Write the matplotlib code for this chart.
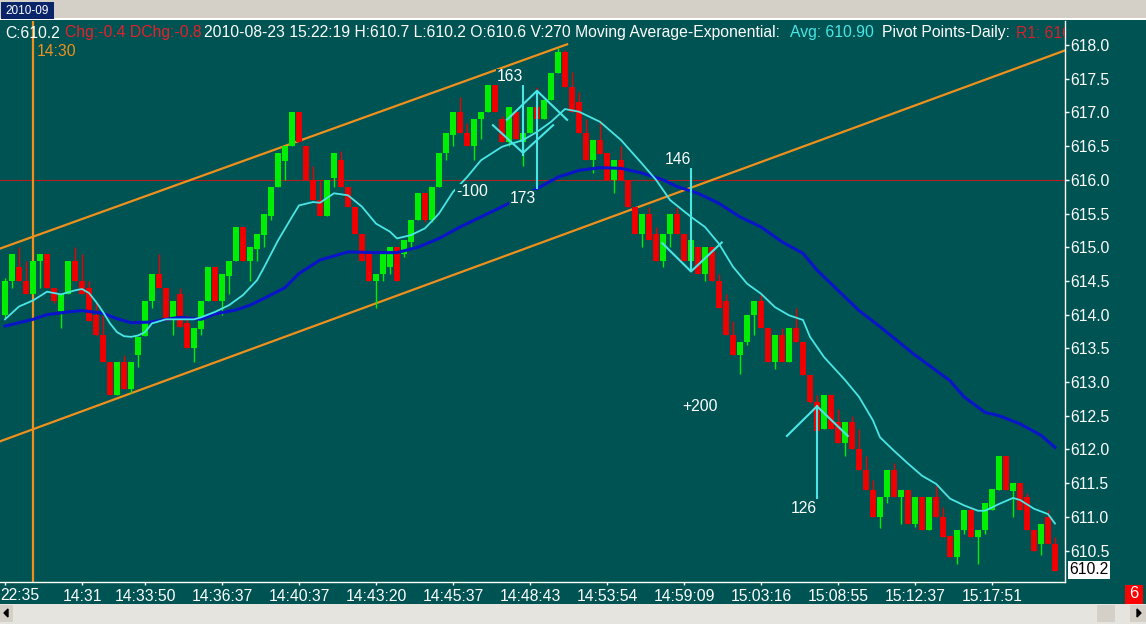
import matplotlib
matplotlib.use('Agg')
import matplotlib.pyplot as plt
from matplotlib.patches import Rectangle, Polygon
import numpy as np

plt.rcParams['font.family'] = ['Liberation Sans', 'DejaVu Sans']

# ---- data (1 minute-ish bars, index = bar number) ----
opens = [614.0, 614.5, 614.7, 614.5, 614.3, 614.8, 614.9, 614.4, 614.05, 614.3,
         614.8, 614.5, 614.4, 614.0, 613.7, 613.3, 612.8, 613.3, 612.9, 613.4,
         613.68, 614.2, 614.6, 614.4, 613.92, 614.3, 613.87, 613.5, 613.78, 614.2,
         614.7, 614.2, 614.58, 614.8, 615.3, 614.8, 614.98, 615.18, 615.47, 615.9,
         616.28, 616.5, 617.0, 616.5, 616.0, 615.7, 615.47, 616.02, 616.29, 615.9,
         615.6, 615.2, 614.9, 614.5, 614.6, 614.7, 615.0, 614.9, 615.08, 615.4,
         615.8, 615.4, 615.9, 616.4, 616.66, 617.0, 616.7, 616.5, 616.9, 617.0,
         617.4, 616.9, 616.56, 617.0, 616.56, 616.7, 617.08, 616.9, 617.18, 617.58,
         617.9, 617.38, 617.15, 616.69, 616.3, 616.59, 616.4, 616.0, 616.29, 616.0,
         615.6, 615.2, 615.5, 615.2, 614.8, 615.2, 615.5, 615.2, 614.8, 615.0,
         614.6, 615.0, 614.5, 614.2, 613.7, 613.4, 613.6, 614.0, 614.2, 613.8,
         613.3, 613.7, 613.3, 613.8, 613.6, 613.1, 612.7, 612.3, 612.8, 612.41,
         612.1, 612.41, 612.0, 611.7, 611.4, 611.0, 611.3, 611.7, 611.29, 611.4,
         610.9, 611.3, 610.8, 611.3, 611.0, 610.72, 610.4, 610.8, 611.1, 610.7,
         610.8, 611.1, 611.4, 611.9, 611.39, 611.5, 611.29, 610.8, 610.6, 611.0,
         610.6]
highs = [614.55, 614.9, 615.0, 614.8, 614.8, 614.9, 614.9, 614.4, 614.3, 614.8,
         615.0, 614.9, 614.5, 614.2, 614.0, 613.3, 613.3, 613.4, 613.3, 613.67,
         614.2, 614.6, 614.9, 614.4, 614.2, 614.4, 614.0, 613.8, 614.2, 614.7,
         614.7, 614.6, 614.8, 615.3, 615.3, 615.0, 615.19, 615.49, 615.9, 616.4,
         616.5, 617.0, 617.0, 616.5, 616.2, 616.0, 616.0, 616.4, 616.42, 615.9,
         615.6, 615.2, 614.9, 614.6, 614.9, 615.0, 615.0, 615.1, 615.4, 615.8,
         615.8, 615.9, 616.4, 616.7, 617.0, 617.23, 616.85, 616.9, 617.0, 617.4,
         617.4, 616.95, 617.08, 617.05, 616.7, 617.08, 617.38, 617.18, 617.59, 617.95,
         617.93, 617.6, 617.3, 616.9, 616.59, 616.89, 616.4, 616.29, 616.5, 616.0,
         615.6, 615.5, 615.6, 615.3, 615.2, 615.5, 615.6, 615.2, 615.1, 615.0,
         615.0, 615.0, 614.6, 614.3, 613.9, 613.6, 614.0, 614.2, 614.3, 613.8,
         613.7, 613.8, 613.8, 614.1, 613.6, 613.1, 612.8, 612.8, 612.8, 612.6,
         612.41, 612.5, 612.3, 611.9, 611.55, 611.3, 611.7, 611.8, 611.4, 611.4,
         611.29, 611.3, 611.3, 611.46, 611.15, 610.72, 610.8, 611.1, 611.15, 610.8,
         611.2, 611.42, 611.9, 611.9, 611.5, 611.5, 611.35, 610.8, 610.9, 611.1,
         610.7]
lows = [613.95, 614.4, 614.5, 614.3, 614.3, 614.4, 614.4, 614.17, 613.8, 614.3,
        614.5, 614.3, 613.9, 613.68, 613.3, 612.8, 612.8, 612.9, 612.83, 613.22,
        613.68, 614.1, 614.4, 613.9, 613.7, 613.82, 613.5, 613.3, 613.7, 614.2,
        614.2, 614.0, 614.3, 614.8, 614.8, 614.5, 614.8, 615.0, 615.4, 615.9,
        616.0, 616.5, 616.56, 616.0, 615.7, 615.47, 615.47, 615.9, 615.9, 615.6,
        615.2, 614.8, 614.5, 614.1, 614.5, 614.6, 614.5, 614.85, 615.0, 615.4,
        615.38, 615.38, 615.9, 616.3, 616.5, 616.7, 616.5, 616.3, 616.6, 617.0,
        617.0, 616.56, 616.5, 616.6, 616.2, 616.7, 616.9, 616.9, 617.18, 617.58,
        617.38, 617.0, 616.7, 616.3, 616.1, 616.39, 616.0, 615.8, 616.0, 615.6,
        615.2, 615.0, 615.1, 614.8, 614.7, 615.0, 615.2, 614.8, 614.8, 614.6,
        614.5, 614.5, 614.1, 613.7, 613.4, 613.12, 613.55, 613.7, 613.8, 613.3,
        613.2, 613.3, 613.3, 613.6, 613.1, 612.69, 612.28, 612.3, 612.3, 612.1,
        611.9, 612.0, 611.7, 611.4, 611.0, 610.83, 611.2, 611.3, 610.9, 610.9,
        610.85, 610.8, 610.8, 611.0, 610.7, 610.4, 610.3, 610.75, 610.7, 610.3,
        610.75, 611.1, 611.4, 611.4, 611.0, 611.1, 610.8, 610.49, 610.43, 610.6,
        610.2]
closes = [614.5, 614.9, 614.5, 614.3, 614.8, 614.9, 614.4, 614.2, 614.3, 614.8,
          614.5, 614.3, 613.9, 613.7, 613.3, 612.8, 613.3, 612.9, 613.3, 613.67,
          614.2, 614.6, 614.4, 613.9, 614.2, 613.82, 613.5, 613.8, 614.2, 614.7,
          614.2, 614.6, 614.8, 615.3, 614.8, 615.0, 615.19, 615.49, 615.9, 616.4,
          616.5, 617.0, 616.56, 616.0, 615.7, 615.47, 616.0, 616.4, 615.9, 615.6,
          615.2, 614.8, 614.5, 614.6, 614.9, 615.0, 614.5, 615.1, 615.4, 615.8,
          615.4, 615.9, 616.4, 616.7, 617.0, 616.7, 616.5, 616.9, 617.0, 617.4,
          617.0, 616.56, 617.08, 616.6, 616.7, 617.08, 616.9, 617.18, 617.59, 617.9,
          617.38, 617.0, 616.7, 616.3, 616.59, 616.39, 616.0, 616.29, 616.0, 615.6,
          615.2, 615.5, 615.1, 614.8, 615.2, 615.5, 615.2, 614.8, 615.1, 614.6,
          615.0, 614.5, 614.1, 613.7, 613.4, 613.6, 614.0, 614.2, 613.8, 613.3,
          613.7, 613.3, 613.8, 613.6, 613.1, 612.7, 612.28, 612.8, 612.3, 612.1,
          612.41, 612.0, 611.7, 611.4, 611.0, 611.3, 611.7, 611.3, 611.4, 610.9,
          611.29, 610.8, 611.3, 611.0, 610.7, 610.4, 610.8, 611.1, 610.7, 610.8,
          611.2, 611.42, 611.9, 611.4, 611.5, 611.1, 610.8, 610.49, 610.9, 610.6,
          610.2]

# moving averages (bar index, price)
fast_ma_idx = [0, 2, 4, 6, 8, 10, 11, 12, 13, 14, 15, 16, 17, 18, 19, 20, 21, 23, 25, 27,
               28, 30, 32, 34, 36, 37, 39, 41, 42, 44, 45, 47, 49, 51, 53, 55, 56, 58, 60, 62,
               64, 66, 68, 71, 74, 76, 78, 80, 82, 85, 88, 91, 93, 95, 98, 100, 102, 104, 106, 108,
               110, 112, 114, 115, 117, 120, 122, 124, 125, 127, 129, 131, 133, 135, 137, 139, 140, 142, 144, 145,
               147, 149, 150]
fast_ma = [613.93, 614.12, 614.21, 614.34, 614.30, 614.36, 614.38, 614.32, 614.19, 614.04,
           613.87, 613.74, 613.68, 613.67, 613.69, 613.74, 613.87, 613.93, 613.93, 613.93,
           613.96, 614.04, 614.14, 614.29, 614.51, 614.70, 615.10, 615.45, 615.62, 615.67,
           615.66, 615.80, 615.77, 615.60, 615.35, 615.23, 615.13, 615.18, 615.28, 615.50,
           615.82, 616.04, 616.29, 616.49, 616.59, 616.71, 616.86, 617.05, 617.01, 616.86,
           616.59, 616.24, 616.00, 615.70, 615.45, 615.30, 615.05, 614.71, 614.46, 614.31,
           614.11, 613.99, 613.92, 613.67, 613.37, 613.03, 612.78, 612.43, 612.18, 611.98,
           611.79, 611.61, 611.49, 611.27, 611.17, 611.09, 611.09, 611.19, 611.28, 611.25,
           611.12, 611.04, 610.90]
slow_ma_idx = [0, 2, 4, 6, 9, 11, 14, 16, 18, 21, 23, 25, 28, 30, 33, 35, 37, 40, 42, 45,
               49, 53, 56, 59, 62, 65, 68, 71, 76, 79, 82, 85, 88, 91, 94, 96, 99, 102, 105, 108,
               111, 114, 116, 119, 122, 125, 130, 135, 137, 140, 142, 145, 148, 150]
slow_ma = [613.83, 613.88, 613.93, 614.00, 614.04, 614.06, 614.02, 613.94, 613.88, 613.89,
           613.93, 613.96, 613.93, 614.01, 614.07, 614.14, 614.24, 614.40, 614.61, 614.81,
           614.93, 614.92, 614.92, 615.00, 615.13, 615.30, 615.45, 615.60, 615.87, 616.04,
           616.14, 616.18, 616.17, 616.10, 616.00, 615.90, 615.80, 615.65, 615.45, 615.30,
           615.08, 614.91, 614.66, 614.36, 614.06, 613.82, 613.40, 613.02, 612.78, 612.55,
           612.50, 612.38, 612.21, 612.03]

# trend channel (drawn lines) and other drawings
chan_upper_x, chan_upper_y = [-0.7, 80.3], [614.98, 618.01]
chan_lower_x, chan_lower_y = [-0.7, 151.7], [612.12, 617.93]
pivot_r1 = 616.0
marker_bar = 4

# cyan wave drawings: list of polylines (bar index, price)
drawings = [
    ([74, 74], [617.63, 616.37]),
    ([69.7, 74, 78.3], [616.81, 616.40, 616.81]),
    ([71.7, 76, 80.3], [616.89, 617.32, 616.89]),
    ([76, 76], [617.32, 615.88]),
    ([98, 98], [616.34, 614.64]),
    ([93.9, 98, 102.4], [615.06, 614.64, 615.07]),
    ([111.7, 116, 120.4], [612.20, 612.64, 612.20]),
    ([116, 116], [612.64, 611.28]),
]
notes = ['163', '173', '-100', '146', '+200', '126']
note_x = [72.1, 74.0, 66.7, 96.1, 99.3, 114.1]
note_y = [617.53, 615.73, 615.82, 616.30, 612.63, 611.13]

tick_bars = [0, 11, 20, 31, 42, 53, 64, 75, 86, 97, 108, 119, 130, 141]
tick_times = ['', '14:31', '14:33:50', '14:36:37', '14:40:37', '14:43:20', '14:45:37',
              '14:48:43', '14:53:54', '14:59:09', '15:03:16', '15:08:55', '15:12:37', '15:17:51']
first_time = '22:35'   # left-most label, only its tail is on screen

# ---- styling ----
W, H, DPI = 1146, 624, 100
TEAL = '#005353'
GREEN = '#00ee00'
RED = '#ee0000'
CYAN = '#4ae6e6'
BLUE = '#0a14c8'
ORANGE = '#f0901c'
GREY = '#d4d0c8'
FS = 11.3


def px_rect(fig, x0, y0, x1, y1, color, **kw):
    # rectangle in figure pixel coords (origin top-left)
    r = Rectangle((x0 / W, 1 - y1 / H), (x1 - x0) / W, (y1 - y0) / H,
                  transform=fig.transFigure, facecolor=color, edgecolor='none', **kw)
    fig.add_artist(r)
    return r


def px_text(fig, x, y, s, **kw):
    return fig.text(x / W, 1 - y / H, s, **kw)


fig = plt.figure(figsize=(W / DPI, H / DPI), dpi=DPI, facecolor=TEAL)
ax = fig.add_axes([0, (H - 582) / H, 1065 / W, (582 - 21) / H])
ax.set_facecolor(TEAL)

o, h, l, c = map(np.array, (opens, highs, lows, closes))
idx = np.arange(len(o))
cols = np.where(c >= o, GREEN, RED)

ax.axhline(pivot_r1, color='#b41e1e', lw=0.8, zorder=1)
ax.plot(chan_upper_x, chan_upper_y, color=ORANGE, lw=1.6, zorder=2)
ax.plot(chan_lower_x, chan_lower_y, color=ORANGE, lw=1.6, zorder=2)
ax.axvline(marker_bar, color=ORANGE, lw=1.6, zorder=2)

ax.vlines(idx, l, h, colors=cols, lw=1, zorder=3)
ax.bar(idx, np.maximum(np.abs(c - o), 0.03), bottom=np.minimum(o, c), width=0.78,
       color=cols, linewidth=0, zorder=3)

ax.plot(slow_ma_idx, slow_ma, color=BLUE, lw=2.2, zorder=4)
ax.plot(fast_ma_idx, fast_ma, color=CYAN, lw=1.3, zorder=4)

for xs, ys in drawings:
    ax.plot(xs, ys, color=CYAN, lw=1.5, zorder=5)
for s, x, y in zip(notes, note_x, note_y):
    ax.text(x, y, s, color='white', fontsize=FS, ha='center', va='center', zorder=6,
            bbox=dict(facecolor=TEAL, edgecolor='none', pad=0.5))

ax.set_xlim(-5 / 7, 1060 / 7)
ax.set_ylim(610.033, 618.356)

ax.yaxis.tick_right()
yt = np.arange(610.5, 618.01, 0.5)
ax.set_yticks(yt)
ax.set_yticklabels(['%.1f' % v for v in yt])
ax.set_xticks(tick_bars)
ax.set_xticklabels(tick_times)
ax.tick_params(axis='y', direction='out', length=3, width=1, colors='white', labelsize=FS, pad=1)
ax.tick_params(axis='x', direction='out', length=2, width=1, colors='white', labelsize=FS, pad=3)
for side in ('left', 'top'):
    ax.spines[side].set_visible(False)
for side in ('right', 'bottom'):
    ax.spines[side].set_color('white')
    ax.spines[side].set_linewidth(1)
px_text(fig, 0, 595, first_time, color='white', fontsize=FS, ha='left', va='center')

# last price box
ax.annotate('%.1f' % closes[-1], xy=(1, closes[-1]), xycoords=('axes fraction', 'data'),
            xytext=(4, 1), textcoords='offset pixels', ha='left', va='center',
            color='black', fontsize=FS, annotation_clip=False,
            bbox=dict(facecolor='white', edgecolor='none', pad=1))

# header line inside the chart
hdr = [(5, 'C:610.2', 'white'),
       (65, 'Chg:-0.4 DChg:-0.8', '#e8202a'),
       (204, '2010-08-23 15:22:19 H:610.7 L:610.2 O:610.6 V:270 Moving Average-Exponential:', 'white'),
       (790, 'Avg: 610.90', CYAN),
       (882, 'Pivot Points-Daily:', 'white'),
       (1016, 'R1: 616.0', '#d8202a')]
for x, s, col in hdr:
    t = px_text(fig, x, 33, s, color=col, fontsize=FS, ha='left', va='center')
    t.set_clip_path(ax.patch)
px_text(fig, 37, 52, '14:30', color=ORANGE, fontsize=FS, ha='left', va='center')

# window chrome: tab bar on top, scrollbar at the bottom
px_rect(fig, 0, 0, W, 18, GREY)
px_rect(fig, 0, 18, W, 20, 'white')
px_rect(fig, 1, 2, 54, 19, '#0a246a')
px_text(fig, 27, 11, '2010-09', color='white', fontsize=8.5, ha='center', va='center')

px_rect(fig, 0, 604, W, H, '#e6e4de')
px_rect(fig, 0, 605, 13, 622, GREY)
px_rect(fig, 1097, 605, 1115, 622, GREY)
px_rect(fig, 1130, 605, W, 622, GREY)
fig.add_artist(Polygon([(4 / W, 1 - 613 / H), (8 / W, 1 - 609 / H), (8 / W, 1 - 617 / H)],
                       transform=fig.transFigure, color='black'))
fig.add_artist(Polygon([(1141 / W, 1 - 613 / H), (1137 / W, 1 - 609 / H), (1137 / W, 1 - 617 / H)],
                       transform=fig.transFigure, color='black'))
px_rect(fig, 1125, 585, 1143, 604, '#ff0000')
px_text(fig, 1134, 594, '6', color='white', fontsize=12, ha='center', va='center')

fig.savefig('out.png', dpi=DPI, facecolor=TEAL)
